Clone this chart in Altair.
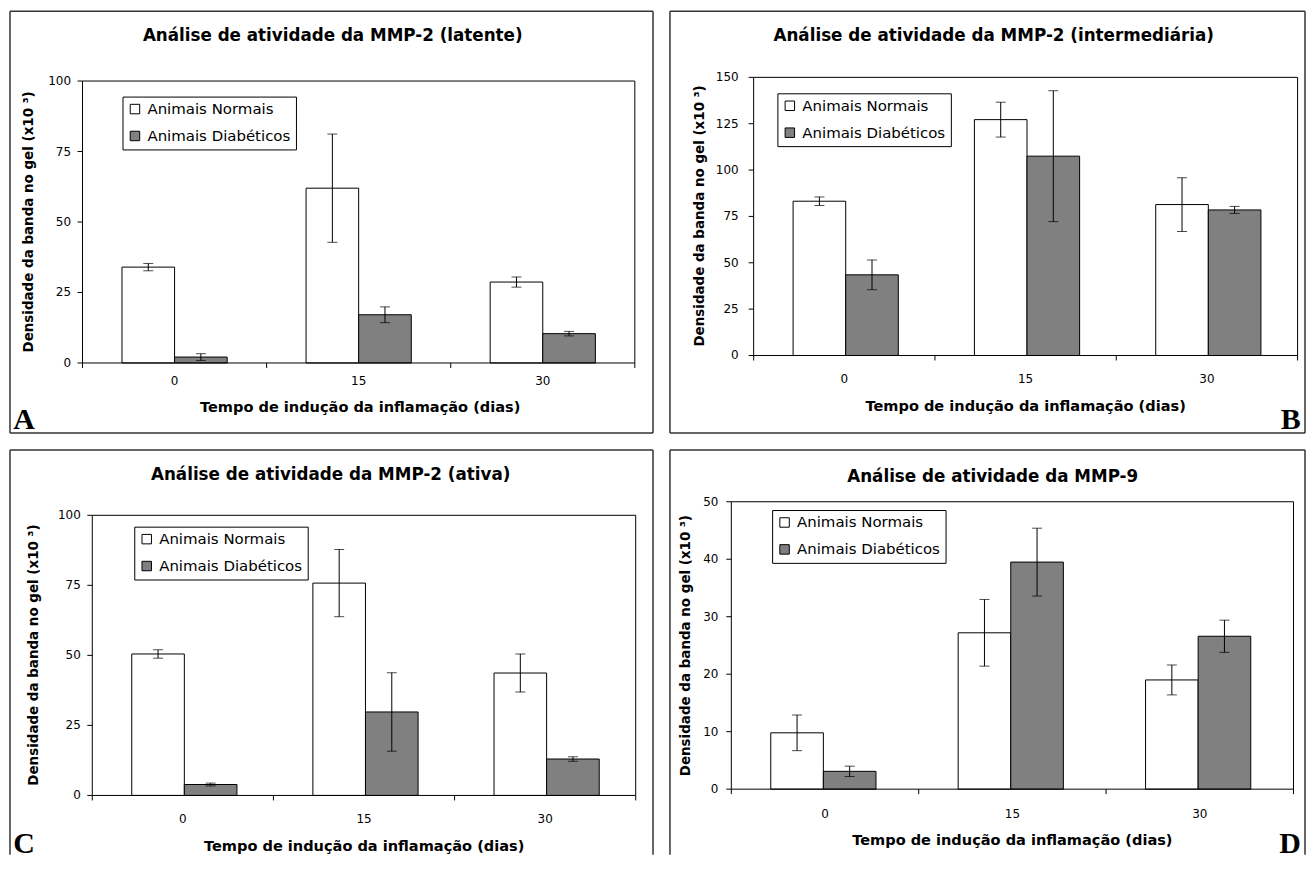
import altair as alt
import pandas as pd

# ---------------- data ----------------
days = ["0", "15", "30"]
groups = ["Animais Normais", "Animais Diabéticos"]
group_fills = ["white", "#808080"]

x_title = "Tempo de indução da inflamação (dias)"
y_title = "Densidade da banda no gel (x10 ³)"

titles = [
    "Análise de atividade da MMP-2 (latente)",
    "Análise de atividade da MMP-2 (intermediária)",
    "Análise de atividade da MMP-2 (ativa)",
    "Análise de atividade da MMP-9",
]
letters = ["A", "B", "C", "D"]

normais_A = [34.0, 62.0, 28.7]
normais_A_ep = [1.3, 19.2, 1.8]
diabeticos_A = [2.1, 17.1, 10.4]
diabeticos_A_ep = [1.2, 2.8, 0.8]
yticks_A = [0, 25, 50, 75, 100]

normais_B = [83.2, 127.2, 81.4]
normais_B_ep = [2.3, 9.4, 14.5]
diabeticos_B = [43.5, 107.5, 78.5]
diabeticos_B_ep = [8.0, 35.3, 1.9]
yticks_B = [0, 25, 50, 75, 100, 125, 150]

normais_C = [50.5, 75.8, 43.7]
normais_C_ep = [1.5, 12.0, 6.8]
diabeticos_C = [3.9, 29.8, 13.0]
diabeticos_C_ep = [0.5, 14.0, 0.8]
yticks_C = [0, 25, 50, 75, 100]

normais_D = [9.8, 27.2, 19.0]
normais_D_ep = [3.1, 5.8, 2.6]
diabeticos_D = [3.1, 39.5, 26.6]
diabeticos_D_ep = [0.9, 5.9, 2.8]
yticks_D = [0, 10, 20, 30, 40, 50]

# ---------------- layout (page pixel positions) ----------------
LAYOUT = {
    "A": dict(origin=(8.75, 8.75), w=645, h=423, plot=(81.5, 78.7, 635.5, 361.5),
              title=(332.5, 38.5), ytitle=(27.5, 220.0), xtitle=(360.0, 411.0), xlab=22, ygap=11.5,
              legend=(121.6, 94.3), letter=(12, 428, "left"), bottom=True),
    "B": dict(origin=(668.25, 8.75), w=637, h=423, plot=(752.2, 75.0, 1297.8, 354.0),
              title=(993.0, 38.7), ytitle=(698.5, 214.0), xtitle=(1025.0, 409.5), xlab=27.7, ygap=15,
              legend=(776.0, 91.0), letter=(1301, 428, "right"), bottom=True),
    "C": dict(origin=(8.75, 445.75), w=645, h=406, plot=(91.3, 511.3, 636.4, 792.3),
              title=(330.4, 476.0), ytitle=(33.0, 651.5), xtitle=(364.0, 848.0), xlab=27.7, ygap=11.5,
              legend=(133.4, 522.7), letter=(12, 850, "left"), bottom=False),
    "D": dict(origin=(668.25, 445.75), w=637, h=406, plot=(729.8, 497.7, 1293.7, 786.0),
              title=(992.0, 477.5), ytitle=(684.0, 642.0), xtitle=(1011.7, 842.5), xlab=29, ygap=13,
              legend=(770.7, 506.0), letter=(1301, 850, "right"), bottom=False),
}

FONT = "DejaVu Sans"
FRAME = "#333333"
TICK_FS = 12
XTITLE_FS = 14.6
YTITLE_FS = 13.5


def panel(key, title, letter, normais, normais_ep, diab, diab_ep, yticks):
    L = LAYOUT[key]
    ox, oy = L["origin"]
    W, H = L["w"], L["h"]
    px0, py0, px1, py1 = L["plot"]
    x0, x1 = px0 - ox, px1 - ox
    y0, y1 = py0 - oy, py1 - oy

    rows = []
    for g, vals, eps in ((groups[0], normais, normais_ep), (groups[1], diab, diab_ep)):
        for d, v, e in zip(days, vals, eps):
            rows.append({"dia": d, "grupo": g, "valor": v, "inf": v - e, "sup": v + e})
    df = pd.DataFrame(rows)
    one = pd.DataFrame({"k": [0]})
    ytick_df = pd.DataFrame({"v": yticks})
    day_df = pd.DataFrame({"dia": days})

    xs = alt.Scale(domain=days, range=[x0, x1], paddingInner=0, paddingOuter=0)
    ys = alt.Scale(domain=[yticks[0], yticks[-1]], range=[y1, y0], nice=False)
    offs = alt.Scale(domain=groups, paddingInner=0, paddingOuter=0.75)

    def X(**kw):
        return alt.X("dia:N", scale=xs, sort=days, axis=None, **kw)

    def XO():
        return alt.XOffset("grupo:N", scale=offs, sort=groups)

    legend = alt.Legend(
        title=None, orient="none", legendX=L["legend"][0] - ox, legendY=L["legend"][1] - oy,
        direction="vertical", strokeColor="black", fillColor="white", padding=5,
        cornerRadius=0, symbolType="square", symbolSize=90, symbolStrokeColor="black",
        symbolStrokeWidth=1, labelFont=FONT, labelFontSize=15, labelColor="black",
        labelOffset=5, rowPadding=11, labelLimit=300,
    )

    base = alt.Chart(df)
    bars = base.mark_bar(stroke="black", strokeWidth=1).encode(
        x=X(),
        xOffset=XO(),
        y=alt.Y("valor:Q", scale=ys, axis=None),
        fill=alt.Fill("grupo:N", scale=alt.Scale(domain=groups, range=group_fills),
                      sort=groups, legend=legend),
    )
    err = base.mark_rule(color="black", strokeWidth=1).encode(
        x=X(), xOffset=XO(),
        y=alt.Y("inf:Q", scale=ys, axis=None),
        y2="sup:Q",
    )
    cap_lo = base.mark_tick(color="black", size=10, thickness=1, orient="horizontal").encode(
        x=X(), xOffset=XO(), y=alt.Y("inf:Q", scale=ys, axis=None),
    )
    cap_hi = base.mark_tick(color="black", size=10, thickness=1, orient="horizontal").encode(
        x=X(), xOffset=XO(), y=alt.Y("sup:Q", scale=ys, axis=None),
    )

    # plot-area border (includes the axis lines)
    plot_box = alt.Chart(one).mark_rect(fill="transparent", stroke="black", strokeWidth=1).encode(
        x=alt.value(x0), x2=alt.value(x1), y=alt.value(y0), y2=alt.value(y1)
    )

    # y axis: ticks + labels through the y scale
    ytick_marks = alt.Chart(ytick_df).mark_rule(color="black", strokeWidth=1).encode(
        y=alt.Y("v:Q", scale=ys, axis=None), x=alt.value(x0 - 5), x2=alt.value(x0)
    )
    ytick_labels = alt.Chart(ytick_df).mark_text(
        font=FONT, fontSize=TICK_FS, color="black", align="right", baseline="middle"
    ).encode(y=alt.Y("v:Q", scale=ys, axis=None), x=alt.value(x0 - L["ygap"]), text="v:Q")

    # x axis: ticks on category boundaries, labels centred
    xtick_marks = alt.Chart(day_df).mark_rule(color="black", strokeWidth=1).encode(
        x=X(bandPosition=0), y=alt.value(y1), y2=alt.value(y1 + 5)
    )
    xtick_end = alt.Chart(one).mark_rule(color="black", strokeWidth=1).encode(
        x=alt.value(x1), y=alt.value(y1), y2=alt.value(y1 + 5)
    )
    xtick_labels = alt.Chart(day_df).mark_text(
        font=FONT, fontSize=TICK_FS, color="black", align="center", baseline="alphabetic"
    ).encode(x=X(), y=alt.value(y1 + L["xlab"]), text="dia:N")

    x_title_txt = alt.Chart(pd.DataFrame({"t": [x_title]})).mark_text(
        font=FONT, fontSize=XTITLE_FS, fontWeight="bold", color="black",
        align="center", baseline="alphabetic",
    ).encode(text="t:N", x=alt.value(L["xtitle"][0] - ox), y=alt.value(L["xtitle"][1] - oy))

    y_title_txt = alt.Chart(pd.DataFrame({"t": [y_title]})).mark_text(
        font=FONT, fontSize=YTITLE_FS, fontWeight="bold", color="black",
        align="center", baseline="middle", angle=270,
    ).encode(text="t:N", x=alt.value(L["ytitle"][0] - ox), y=alt.value(L["ytitle"][1] - oy))

    def vrule(x):
        return alt.Chart(one).mark_rule(color=FRAME, strokeWidth=1.5).encode(
            x=alt.value(x), y=alt.value(0), y2=alt.value(H))

    def hrule(y):
        return alt.Chart(one).mark_rule(color=FRAME, strokeWidth=1.5).encode(
            y=alt.value(y), x=alt.value(0), x2=alt.value(W))

    frame = [vrule(0), vrule(W), hrule(0)]
    if L["bottom"]:
        frame.append(hrule(H))

    title_txt = alt.Chart(pd.DataFrame({"t": [title]})).mark_text(
        font=FONT, fontSize=16.8, fontWeight="bold", color="black",
        align="center", baseline="alphabetic",
    ).encode(text="t:N", x=alt.value(L["title"][0] - ox), y=alt.value(L["title"][1] - oy))

    lx, ly, la = L["letter"]
    letter_txt = alt.Chart(pd.DataFrame({"t": [letter]})).mark_text(
        font="Liberation Serif", fontSize=30, fontWeight="bold", color="black",
        align=la, baseline="alphabetic",
    ).encode(text="t:N", x=alt.value(lx - ox), y=alt.value(ly - oy))

    return alt.layer(
        *frame, bars, err, cap_lo, cap_hi, plot_box,
        ytick_marks, ytick_labels, xtick_marks, xtick_end, xtick_labels,
        x_title_txt, y_title_txt, title_txt, letter_txt,
    ).properties(width=W, height=H)


pA = panel("A", titles[0], letters[0], normais_A, normais_A_ep, diabeticos_A, diabeticos_A_ep, yticks_A)
pB = panel("B", titles[1], letters[1], normais_B, normais_B_ep, diabeticos_B, diabeticos_B_ep, yticks_B)
pC = panel("C", titles[2], letters[2], normais_C, normais_C_ep, diabeticos_C, diabeticos_C_ep, yticks_C)
pD = panel("D", titles[3], letters[3], normais_D, normais_D_ep, diabeticos_D, diabeticos_D_ep, yticks_D)

row1 = alt.hconcat(pA, pB, spacing=13).resolve_scale(fill="independent").resolve_legend(fill="independent")
row2 = alt.hconcat(pC, pD, spacing=13).resolve_scale(fill="independent").resolve_legend(fill="independent")

chart = (
    alt.vconcat(row1, row2, spacing=12)
    .resolve_scale(fill="independent")
    .resolve_legend(fill="independent")
    .properties(padding=0, background="white")
    .configure_view(stroke="transparent")
)

chart.save("out.html", embed_options={"renderer": "svg", "actions": False})
